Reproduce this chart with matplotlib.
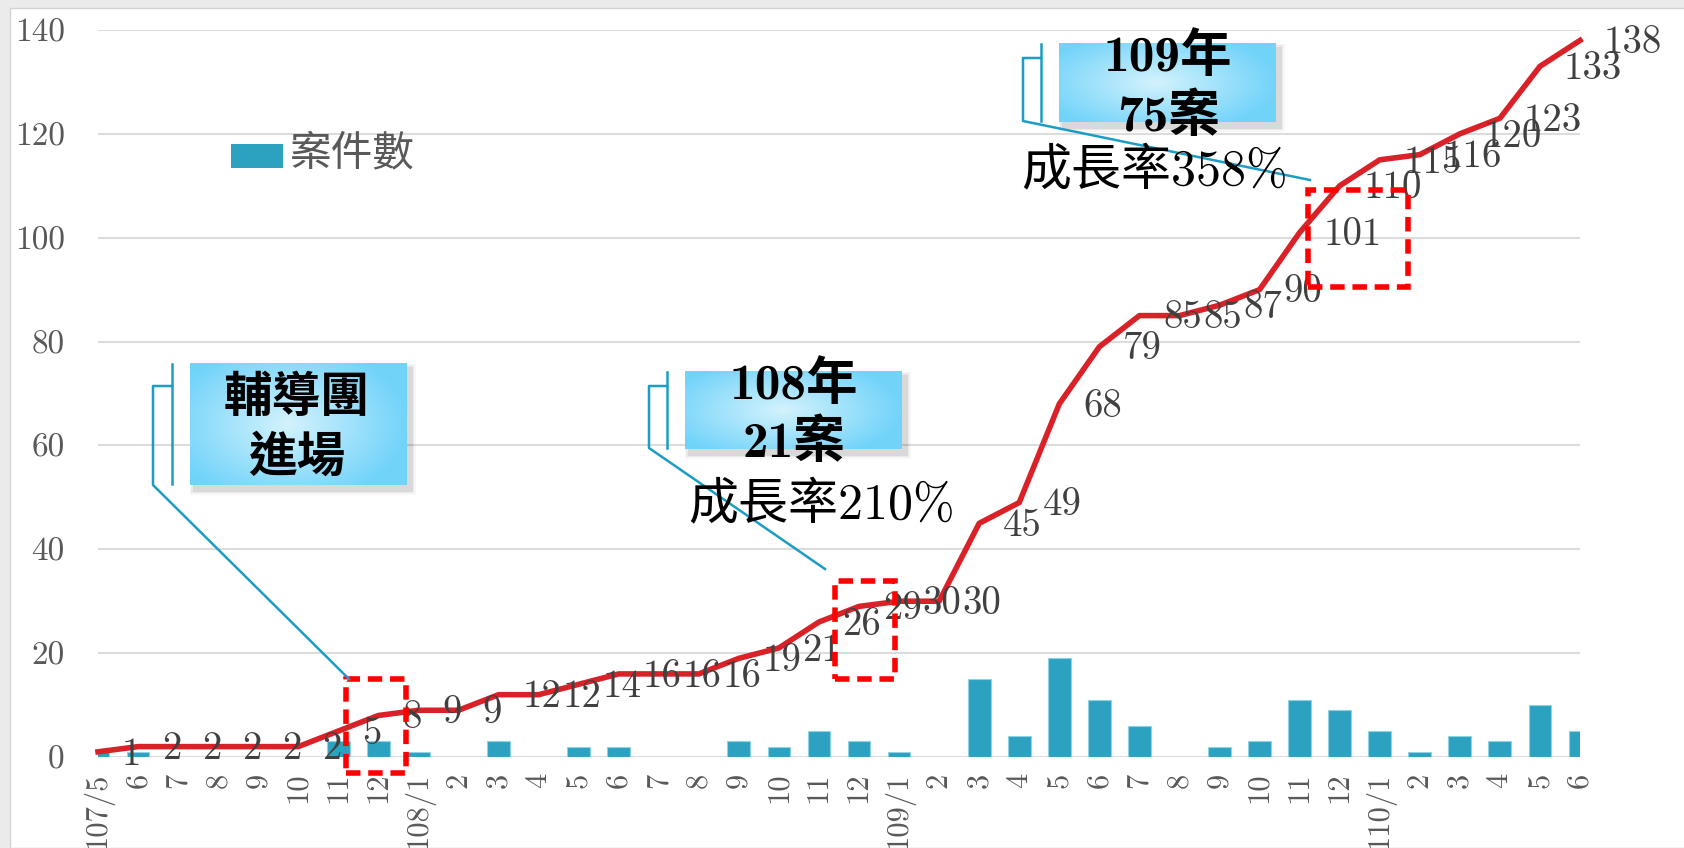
import numpy as np
import matplotlib.pyplot as plt
from matplotlib.patches import Rectangle

plt.rcParams['axes.unicode_minus'] = False

# 月份（民國年/月）
months = ['107/5', '6', '7', '8', '9', '10', '11', '12',
          '108/1', '2', '3', '4', '5', '6', '7', '8', '9', '10', '11', '12',
          '109/1', '2', '3', '4', '5', '6', '7', '8', '9', '10', '11', '12',
          '110/1', '2', '3', '4', '5', '6']
# 每月案件數
monthly_cases = [1, 1, 0, 0, 0, 0, 3, 3,
                 1, 0, 3, 0, 2, 2, 0, 0, 3, 2, 5, 3,
                 1, 0, 15, 4, 19, 11, 6, 0, 2, 3, 11, 9,
                 5, 1, 4, 3, 10, 5]
# 累計案件數
cumulative_cases = [1, 2, 2, 2, 2, 2, 5, 8,
                    9, 9, 12, 12, 14, 16, 16, 16, 19, 21, 26, 29,
                    30, 30, 45, 49, 68, 79, 85, 85, 87, 90, 101, 110,
                    115, 116, 120, 123, 133, 138]
y_ticks = [0, 20, 40, 60, 80, 100, 120, 140]

BAR_COLOR = '#2DA2C0'
LINE_COLOR = '#DA2128'
LEADER = '#1B9DC4'
CJK = 'Noto Sans CJK TC'

W, H = 1684, 848
fig = plt.figure(figsize=(W / 100, H / 100), dpi=100, facecolor='#ebebeb')
fig.patches.append(Rectangle((10 / W, 0), 1, (H - 8) / H, transform=fig.transFigure,
                             facecolor='white', edgecolor='#d2d2d2', lw=1, zorder=-1))

ax = fig.add_axes([98 / W, (H - 757) / H, (1580 - 98) / W, (757 - 30) / H])
ax.set_facecolor('none')
x = np.arange(len(months))

ax.bar(x, monthly_cases, width=0.57, color=BAR_COLOR, edgecolor='#8ED2E5',
       linewidth=0.8, zorder=2)
ax.plot(x, cumulative_cases, color=LINE_COLOR, lw=4, solid_joinstyle='round',
        zorder=3, clip_on=False)

for xi, v in zip(x, cumulative_cases):
    ax.annotate(str(v), (xi, v), xytext=(17, -2), textcoords='offset points',
                ha='left', va='center', fontsize=28, color='#404040',
                family='cmr10', zorder=4, annotation_clip=False)

ax.set_xlim(0, len(months) - 1)
ax.set_ylim(0, 140)
ax.set_yticks(y_ticks)
ax.set_yticklabels([str(v) for v in y_ticks], family='cmr10')
ax.set_xticks(x)
ax.set_xticklabels(months, rotation=90, family='cmr10')
ax.grid(axis='y', color='#dcdcdc', lw=1.5)
ax.set_axisbelow(True)
for s in ax.spines.values():
    s.set_visible(False)
ax.tick_params(length=0)
ax.tick_params(axis='y', pad=24, labelsize=24, labelcolor='#595959')
ax.tick_params(axis='x', pad=11, labelsize=22, labelcolor='#595959')

# 紅色虛線框標示重點月份
for bx, by, bw, bh in [(6.2, -3.1, 1.5, 18.1), (18.4, 15.0, 1.5, 18.9), (30.2, 90.5, 2.5, 18.7)]:
    ax.add_patch(Rectangle((bx, by), bw, bh, fill=False, edgecolor='#FF0000', lw=4,
                           linestyle=(0, (2.6, 1.4)), zorder=5, clip_on=False))

# 圖說層（像素座標）
ov = fig.add_axes([0, 0, 1, 1], zorder=5)
ov.set_facecolor('none')

gx, gy = np.meshgrid(np.linspace(-1, 1, 200), np.linspace(-1, 1, 80))
r = np.clip(np.sqrt(((gx + 0.1) / 1.1) ** 2 + (gy / 1.3) ** 2), 0, 1)
light = np.array([0.83, 0.95, 0.99])
dark = np.array([0.45, 0.83, 0.98])
grad = light[None, None, :] * (1 - r[..., None]) + dark[None, None, :] * r[..., None]


def callout(box, leader):
    x0, y0, x1, y1 = box
    for k, a in [(9, 0.03), (6, 0.05), (3, 0.07)]:
        ov.add_patch(Rectangle((x0 + 4 - k / 2, y0 + 5 - k / 2), x1 - x0 + k, y1 - y0 + k,
                               color='black', alpha=a, lw=0, zorder=1))
    ov.imshow(grad, extent=(x0, x1, y1, y0), aspect='auto', zorder=2)
    bar_x = leader[0][0]
    ov.plot([bar_x, bar_x], [y0 + 1, y1 - 1], color=LEADER, lw=1.8, zorder=3)
    lx, ly = zip(*leader)
    ov.plot(lx, ly, color=LEADER, lw=1.8, zorder=3)


callout((190, 363, 407, 485), [(172, 386), (153, 386), (153, 485), (349, 679)])
callout((685, 371, 902, 449), [(667, 386), (649, 386), (649, 448), (825, 569)])
callout((1059, 43, 1276, 122), [(1041, 58), (1023, 58), (1023, 121), (1310, 180)])

bold_font = dict(family=['cmb10', CJK], weight='bold', color='black',
                 ha='center', va='center', zorder=4)
plain_font = dict(family=['cmr10', CJK], color='black', ha='center', va='center', zorder=4)

ov.text(297, 398, '輔導團', fontsize=35, **{**bold_font, 'family': CJK})
ov.text(297, 457, '進場', fontsize=35, **{**bold_font, 'family': CJK})

ov.text(794, 385, '108年', fontsize=37, **bold_font)
ov.text(794, 443, '21案', fontsize=37, **bold_font)
ov.text(822, 505, '成長率210%', fontsize=36, **plain_font)

ov.text(1168, 57, '109年', fontsize=37, **bold_font)
ov.text(1168, 117, '75案', fontsize=37, **bold_font)
ov.text(1155, 171, '成長率358%', fontsize=36, **plain_font)

# 圖例
ov.add_patch(Rectangle((231, 144), 52, 24, color=BAR_COLOR, lw=0))
ov.text(290, 154, '案件數', fontsize=30, color='#595959', family=CJK, va='center', ha='left')

ov.set_xlim(0, W)
ov.set_ylim(H, 0)
ov.axis('off')

fig.savefig('out.png', dpi=100, facecolor=fig.get_facecolor())
